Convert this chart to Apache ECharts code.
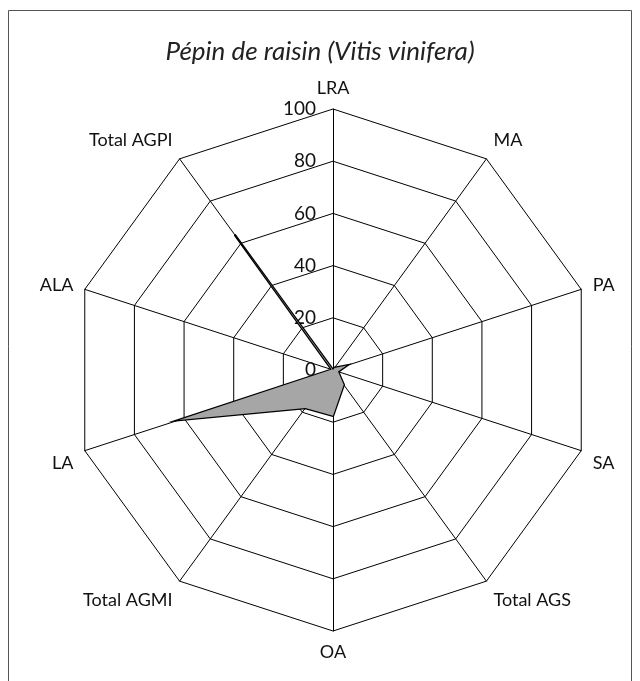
<!DOCTYPE html>
<html>
<head>
<meta charset="utf-8">
<script src="https://cdn.jsdelivr.net/npm/echarts@6/dist/echarts.min.js"></script>
<style>
  html, body { margin: 0; padding: 0; background: #fff; }
  #main { width: 640px; height: 681px; }
</style>
</head>
<body>
<div id="main"></div>
<script>
// axes, clockwise from the top (as read on the chart)
var indicators = ['LRA', 'MA', 'PA', 'SA', 'Total AGS', 'OA', 'Total AGMI', 'LA', 'ALA', 'Total AGPI'];
var values = [0, 1, 5.5, 2, 7, 17.5, 18, 62, 0.5, 64];
var tickLabels = ['0', '20', '40', '60', '80', '100'];
var axisMax = 100;

// echarts lays radar axes out counter-clockwise, so flip everything after the first
var order = [0].concat(indicators.map(function (d, i) { return i; }).slice(1).reverse());

// where each axis name sits vertically against its spoke end
function nameVAlign(k) {
  var s = Math.sin((90 - k * 36) * Math.PI / 180);
  if (s > 0.5) return 'bottom';
  if (s < -0.2) return 'top';
  return 'middle';
}

var chart = echarts.init(document.getElementById('main'));

chart.setOption({
  animation: false,
  textStyle: { fontFamily: 'Lato' },
  title: {
    text: 'Pépin de raisin (Vitis vinifera)',
    left: 'center',
    top: 34,
    textStyle: { fontSize: 26, fontStyle: 'italic', fontWeight: 'normal', color: '#222', fontFamily: 'Lato' }
  },
  graphic: [{
    type: 'rect',
    shape: { x: 8.5, y: 10.5, width: 623, height: 690 },
    style: { fill: null, stroke: '#555', lineWidth: 1 },
    silent: true
  }],
  radar: {
    center: [333, 370],
    radius: 261,
    startAngle: 90,
    shape: 'polygon',
    splitNumber: 5,
    nameGap: 12,
    axisName: { color: '#111', fontSize: 18, fontFamily: 'Lato' },
    splitArea: { show: false },
    splitLine: { lineStyle: { color: '#000', width: 1 } },
    axisLine: { lineStyle: { color: '#000', width: 1 } },
    axisTick: { show: false },
    axisLabel: {
      show: true,
      color: '#111',
      fontSize: 19,
      margin: 17,
      formatter: function (v) {
        var i = Math.round(v / (axisMax / (tickLabels.length - 1)));
        return tickLabels[i] !== undefined ? tickLabels[i] : '';
      }
    },
    indicator: order.map(function (k, i) {
      var ind = {
        name: indicators[k], min: 0, max: axisMax,
        nameTextStyle: { verticalAlign: nameVAlign(k) }
      };
      if (i > 0) ind.axisLabel = { show: false };
      return ind;
    })
  },
  series: [{
    type: 'radar',
    symbol: 'none',
    lineStyle: { color: '#000', width: 2.5, join: 'miter' },
    areaStyle: { color: '#a6a6a6', opacity: 1 },
    data: [{ value: order.map(function (k) { return values[k]; }) }]
  }]
});
</script>
</body>
</html>
